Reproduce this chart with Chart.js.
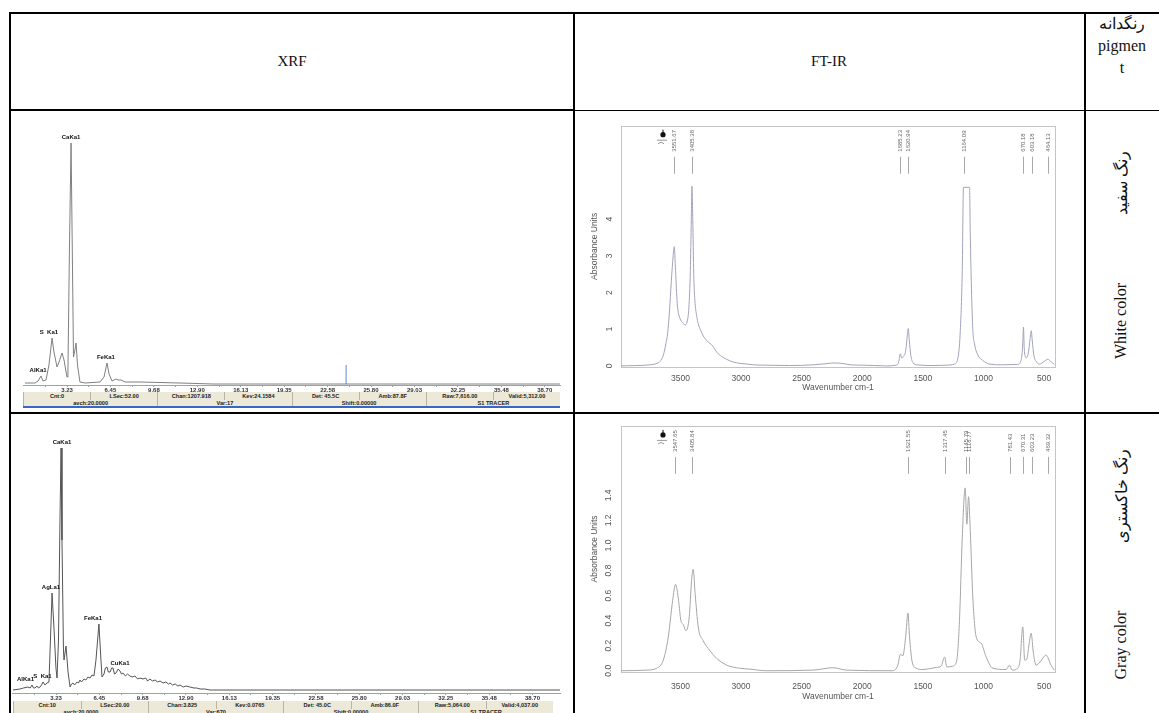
<!DOCTYPE html>
<html>
<head>
<meta charset="utf-8">
<script src="https://cdn.jsdelivr.net/npm/chart.js@4.4.0/dist/chart.umd.min.js"></script>
<style>
body { margin: 0; background: #fff; }
#page { position: relative; width: 1159px; height: 713px; overflow: hidden; font-family: "Liberation Serif", "DejaVu Serif", serif; color: #111; }
.ln { position: absolute; background: #000; }
.txt { position: absolute; white-space: nowrap; transform: translate(-50%, -50%); font-size: 15px; }
.rot { position: absolute; white-space: nowrap; transform: translate(-50%, -50%) rotate(-90deg); font-size: 16px; }
canvas { position: absolute; }
.bar { position: absolute; display: flex; background: #ece9d8; font: bold 5.6px "Liberation Sans", Arial, sans-serif; color: #222; overflow: hidden; }
.bar span { flex: 1; text-align: center; border-left: 1px solid #b9b5a0; white-space: nowrap; overflow: hidden; }
</style>
</head>
<body>
<div id="page">
  <!-- table lines -->
  <div class="ln" style="left:9px;top:12px;width:1150px;height:2px"></div>
  <div class="ln" style="left:9px;top:12px;width:2px;height:701px"></div>
  <div class="ln" style="left:9px;top:109px;width:566px;height:2px"></div>
  <div class="ln" style="left:575px;top:110px;width:584px;height:1px"></div>
  <div class="ln" style="left:573px;top:12px;width:2px;height:701px"></div>
  <div class="ln" style="left:1084px;top:12px;width:2px;height:701px"></div>
  <div class="ln" style="left:9px;top:412px;width:1150px;height:2px"></div>

  <div class="txt" style="left:292px;top:61px">XRF</div>
  <div class="txt" style="left:829px;top:61px">FT-IR</div>
  <div class="txt" style="left:1122px;top:23px;font-size:16px">رنگدانه</div>
  <div class="txt" style="left:1122px;top:46px;font-size:16px">pigmen</div>
  <div class="txt" style="left:1122px;top:68px;font-size:16px">t</div>
  <div class="rot" style="left:1121px;top:183px">رنگ سفید</div>
  <div class="rot" style="left:1121px;top:321px">White color</div>
  <div class="rot" style="left:1121px;top:496px">رنگ خاکستری</div>
  <div class="rot" style="left:1121px;top:645px">Gray color</div>

  <canvas id="xrfWhite" width="556" height="281" style="left:12px;top:112px"></canvas>
  <canvas id="xrfGray" width="556" height="287" style="left:12px;top:414px"></canvas>
  <canvas id="irWhite" width="505" height="295" style="left:575px;top:112px"></canvas>
  <canvas id="irGray" width="505" height="299" style="left:575px;top:414px"></canvas>

  <div class="bar" id="barWhiteA" style="left:23px;top:392px;width:537px;height:8px;line-height:8px"></div>
  <div class="bar" id="barWhiteB" style="left:23px;top:400px;width:537px;height:6px;line-height:6px"></div>
  <div style="position:absolute;left:23px;top:406px;width:537px;height:2px;background:#3a67c4"></div>
  <div class="bar" id="barGrayA" style="left:13px;top:701px;width:540px;height:8px;line-height:8px"></div>
  <div class="bar" id="barGrayB" style="left:13px;top:709px;width:540px;height:6px;line-height:6px"></div>
</div>

<script>
// XRF, white pigment
const xrfWhiteKev = [0.11, 0.85, 1.08, 1.3, 1.45, 1.67, 1.89, 2.12, 2.26, 2.49, 2.64, 2.86, 3.01, 3.16, 3.23, 3.3, 3.41, 3.53, 3.64, 3.71, 3.82, 3.9, 4.01, 4.19, 4.57, 5.68, 5.98, 6.2, 6.35, 6.57, 6.87, 7.02, 7.24, 7.54, 8.65, 11.62, 14.07, 39.9];
const xrfWhiteCounts = [1, 1, 3, 8, 3, 4, 19, 46, 32, 17, 22, 31, 24, 12, 7, 14, 134, 241, 114, 27, 34, 41, 19, 2, 1, 2, 7, 21, 10, 3, 5, 4, 4, 2, 2, 1, 0, 0];
const xrfWhiteNames = ["AlKa1", "S  Ka1", "CaKa1", "FeKa1"];
const xrfWhiteNameKev = [1.08, 1.89, 3.53, 6.12];
const xrfWhiteCursor = [23.95, 19];

// XRF, gray pigment
const xrfGrayKev = [0.02, 0.54, 0.8, 1.14, 1.3, 1.44, 1.55, 1.66, 1.81, 1.92, 2.03, 2.15, 2.26, 2.41, 2.55, 2.7, 2.81, 2.93, 3.08, 3.22, 3.3, 3.41, 3.52, 3.6, 3.67, 3.78, 3.82, 3.97, 4.12, 4.27, 4.38, 4.49, 4.6, 4.79, 4.9, 5.01, 5.12, 5.31, 5.45, 5.6, 5.76, 5.9, 6.05, 6.2, 6.42, 6.57, 6.65, 6.8, 6.9, 7.02, 7.12, 7.25, 7.36, 7.47, 7.58, 7.69, 7.85, 7.99, 8.1, 8.21, 8.4, 8.55, 8.73, 8.9, 9.1, 9.3, 9.48, 9.7, 9.9, 10.05, 10.22, 10.4, 10.6, 10.8, 10.97, 11.2, 11.4, 11.6, 11.71, 11.9, 12.1, 12.3, 12.46, 12.7, 12.9, 13.2, 13.5, 13.7, 13.95, 14.3, 14.69, 40.75];
const xrfGrayCounts = [0, 1, 2, 3, 2, 5, 2, 2, 4, 2, 3, 5, 8, 5, 7, 8, 50, 97, 60, 22, 12, 50, 170, 242, 150, 40, 30, 44, 18, 3, 6, 7, 5, 8, 7, 10, 8, 11, 10, 13, 12, 15, 14, 30, 66, 30, 13, 16, 22, 23, 18, 18, 22, 22, 16, 17, 21, 19, 16, 17, 14, 16, 14, 13, 14, 11, 12, 11, 12, 9, 11, 9, 10, 8, 9, 7, 8, 6, 7, 5, 6, 4, 5, 3, 4, 3, 2, 2, 1, 1, 0, 0];
const xrfGrayNames = ["AlKa1", "S  Ka1", "AgLa1", "CaKa1", "FeKa1", "CuKa1"];
const xrfGrayNameKev = [0.95, 2.22, 2.85, 3.67, 5.98, 7.99];

const xrfTickLabels = ["3.23", "6.45", "9.68", "12.90", "16.13", "19.35", "22.58", "25.80", "29.03", "32.25", "35.48", "38.70"];

const statusWhiteTop = ["Cnt:0", "LSec:52.00", "Chan:1207.918", "Kev:24.1584", "Det: 45.5C", "Amb:87.8F", "Raw:7,616.00", "Valid:5,312.00"];
const statusWhiteBottom = ["avch:20.0000", "Var:17", "Shift:0.00000", "S1 TRACER"];
const statusGrayTop = ["Cnt:10", "LSec:20.00", "Chan:3.825", "Kev:0.0765", "Det: 45.0C", "Amb:86.0F", "Raw:5,064.00", "Valid:4,037.00"];
const statusGrayBottom = ["avch:20.0000", "Var:670", "Shift:0.00000", "S1 TRACER"];

// FT-IR, white pigment
const irWhiteWn = [3990, 3850, 3750, 3700, 3669, 3640, 3620, 3605, 3590, 3575, 3560, 3551, 3540, 3526, 3504, 3480, 3463, 3445, 3430, 3418, 3410, 3405, 3398, 3390, 3381, 3365, 3353, 3330, 3312, 3290, 3271, 3243, 3225, 3202, 3160, 3119, 3060, 3010, 2950, 2900, 2800, 2600, 2400, 2300, 2230, 2150, 2100, 2000, 1900, 1800, 1720, 1700, 1686, 1675, 1660, 1640, 1628, 1621, 1612, 1600, 1580, 1550, 1400, 1300, 1240, 1212, 1192, 1175, 1165, 1115, 1109, 1099, 1088, 1074, 1047, 1006, 951, 850, 720, 690, 676, 670, 664, 655, 648, 630, 615, 606, 598, 585, 560, 538, 500, 470, 445, 415];
const irWhiteAbs = [0.0, 0.01, 0.03, 0.06, 0.12, 0.3, 0.6, 0.9, 1.5, 2.3, 3.0, 3.25, 2.6, 1.7, 1.3, 1.18, 1.12, 1.2, 1.6, 2.6, 4.0, 4.9, 4.0, 2.5, 1.8, 1.35, 1.15, 0.95, 0.82, 0.72, 0.65, 0.58, 0.5, 0.38, 0.26, 0.18, 0.1, 0.07, 0.05, 0.03, 0.02, 0.01, 0.03, 0.06, 0.08, 0.06, 0.03, 0.02, 0.01, 0.0, 0.02, 0.1, 0.33, 0.22, 0.25, 0.45, 0.85, 1.02, 0.7, 0.3, 0.08, 0.03, 0.01, 0.02, 0.05, 0.2, 0.9, 2.6, 4.87, 4.87, 3.6, 2.1, 1.0, 0.6, 0.3, 0.15, 0.05, 0.03, 0.04, 0.15, 0.6, 1.06, 0.5, 0.25, 0.22, 0.35, 0.75, 0.96, 0.7, 0.3, 0.1, 0.05, 0.12, 0.18, 0.12, 0.04];
const irWhitePeaks = ["3551.67", "3405.38", "1685.23", "1620.94", "1164.09", "670.18", "603.18", "464.13"];
const irWhiteYTicks = [0, 1, 2, 3, 4];

// FT-IR, gray pigment
const irGrayWn = [3990, 3778, 3696, 3641, 3600, 3564, 3540, 3515, 3496, 3477, 3455, 3427, 3408, 3395, 3378, 3353, 3312, 3257, 3202, 3119, 3010, 2928, 2790, 2406, 2241, 2131, 1749, 1706, 1686, 1665, 1642, 1623, 1610, 1588, 1555, 1500, 1390, 1349, 1321, 1302, 1253, 1220, 1198, 1175, 1151, 1137, 1123, 1109, 1088, 1060, 1019, 978, 923, 813, 786, 764, 717, 698, 676, 660, 643, 627, 607, 588, 566, 533, 484, 443, 415];
const irGrayAbs = [0.0, 0.005, 0.02, 0.085, 0.27, 0.56, 0.69, 0.56, 0.4, 0.37, 0.32, 0.43, 0.72, 0.81, 0.61, 0.35, 0.24, 0.16, 0.1, 0.045, 0.02, 0.013, 0.0, 0.005, 0.024, 0.005, 0.0, 0.045, 0.13, 0.12, 0.27, 0.46, 0.27, 0.07, 0.02, 0.01, 0.026, 0.037, 0.11, 0.03, 0.037, 0.085, 0.4, 1.06, 1.46, 1.17, 1.39, 1.12, 0.59, 0.27, 0.22, 0.11, 0.02, 0.01, 0.045, 0.005, 0.02, 0.085, 0.35, 0.085, 0.09, 0.19, 0.3, 0.14, 0.045, 0.07, 0.125, 0.045, 0.005];
const irGrayPeaks = ["3547.65", "3405.84", "1621.55", "1317.45", "1145.79", "1118.77", "781.43", "670.31", "603.23", "469.32"];
const irGrayYTicks = [0, 0.2, 0.4, 0.6, 0.8, 1.0, 1.2, 1.4];

const irTicks = [3500, 3000, 2500, 2000, 1500, 1000, 500];

function fillBar(id, items) {
    const bar = document.getElementById(id);
    items.forEach(t => {
        const s = document.createElement("span");
        s.textContent = t;
        bar.appendChild(s);
    });
}
fillBar("barWhiteA", statusWhiteTop);
fillBar("barWhiteB", statusWhiteBottom);
fillBar("barGrayA", statusGrayTop);
fillBar("barGrayB", statusGrayBottom);

// element names above the XRF peaks
const peakNames = {
    id: "peakNames",
    afterDatasetsDraw(chart, args, opts) {
        const { ctx, scales: { x, y } } = chart;
        const pts = chart.data.datasets[0].data;
        ctx.save();
        ctx.font = 'bold 6px "Liberation Sans", Arial, sans-serif';
        ctx.fillStyle = "#111";
        ctx.textAlign = "center";
        ctx.textBaseline = "bottom";
        opts.names.forEach((name, i) => {
            const k = opts.kev[i];
            let top = 0;
            pts.forEach(p => { if (Math.abs(p.x - k) <= 0.5 && p.y > top) top = p.y; });
            ctx.fillText(name, x.getPixelForValue(k), y.getPixelForValue(top) - 3);
        });
        ctx.restore();
    }
};

function xrfChart(id, kev, counts, maxKev, yMin, yMax, color, names, nameKev, cursor, padLeft) {
    const tickVals = [];
    xrfTickLabels.forEach((l, i) => {
        const v = Number(l);
        const prev = i === 0 ? 0 : Number(xrfTickLabels[i - 1]);
        tickVals.push((prev + v) / 2, v);
    });
    const datasets = [{
        data: kev.map((k, i) => ({ x: k, y: counts[i] })),
        borderColor: color,
        borderWidth: 1,
        pointRadius: 0,
        tension: 0
    }];
    if (cursor) {
        datasets.push({
            data: [{ x: cursor[0], y: 0 }, { x: cursor[0], y: cursor[1] }],
            borderColor: "#5a86d8",
            borderWidth: 1,
            pointRadius: 0
        });
    }
    new Chart(document.getElementById(id), {
        type: "line",
        data: { datasets },
        plugins: [peakNames],
        options: {
            responsive: false,
            animation: false,
            layout: { padding: { left: padLeft, right: 8, top: 0, bottom: 0 } },
            plugins: {
                legend: { display: false },
                tooltip: { enabled: false },
                peakNames: { names, kev: nameKev }
            },
            scales: {
                x: {
                    type: "linear",
                    min: 0,
                    max: maxKev,
                    afterBuildTicks: s => { s.ticks = tickVals.filter(v => v <= maxKev).map(v => ({ value: v })); },
                    afterFit: s => { s.height = 8; },
                    ticks: {
                        autoSkip: false,
                        maxRotation: 0,
                        padding: 0,
                        color: "#333",
                        font: { size: 6, weight: "bold", family: "Liberation Sans" },
                        callback: (v, i) => (i % 2 === 1 ? xrfTickLabels[(i - 1) / 2] : "")
                    },
                    grid: { drawOnChartArea: false, tickLength: 2, color: "#9aa3ad" },
                    border: { color: "#9aa3ad" }
                },
                y: { display: false, min: yMin, max: yMax }
            }
        }
    });
}

xrfChart("xrfWhite", xrfWhiteKev, xrfWhiteCounts, 39.83, -1, 272, "#808080", xrfWhiteNames, xrfWhiteNameKev, xrfWhiteCursor, 11.5);
xrfChart("xrfGray", xrfGrayKev, xrfGrayCounts, 40.75, -3, 276, "#555", xrfGrayNames, xrfGrayNameKev, null, 0.7);

// frame, peak labels and the little OPUS marker
const irFrame = {
    id: "irFrame",
    beforeDatasetsDraw(chart) {
        const { ctx, chartArea: a } = chart;
        ctx.save();
        ctx.strokeStyle = "#c4c4c4";
        ctx.lineWidth = 1;
        ctx.strokeRect(Math.round(a.left) + 0.5, Math.round(a.top) + 0.5, Math.round(a.right - a.left), Math.round(a.bottom - a.top));
        ctx.restore();
    },
    afterDatasetsDraw(chart, args, opts) {
        const { ctx, chartArea: a, scales: { x } } = chart;
        ctx.save();
        ctx.strokeStyle = "#a8a8a8";
        ctx.fillStyle = "#666";
        ctx.lineWidth = 1;
        ctx.font = '6px "Liberation Sans", Arial, sans-serif';
        ctx.textAlign = "left";
        ctx.textBaseline = "middle";
        opts.peaks.forEach(p => {
            const px = Math.round(x.getPixelForValue(Number(p))) + 0.5;
            ctx.beginPath();
            ctx.moveTo(px, a.top + 31);
            ctx.lineTo(px, a.top + 48);
            ctx.stroke();
            ctx.save();
            ctx.translate(px, a.top + 26);
            ctx.rotate(-Math.PI / 2);
            ctx.fillText(p, 0, 0);
            ctx.restore();
        });
        // marker symbol
        const mx = a.left + 42, my = a.top + 9;
        ctx.fillStyle = "#111";
        ctx.beginPath();
        ctx.arc(mx, my, 2.6, 0, Math.PI * 2);
        ctx.fill();
        ctx.fillRect(mx - 0.5, my - 5, 1, 3);
        ctx.strokeStyle = "#999";
        ctx.beginPath();
        ctx.moveTo(mx - 6, my + 5.5);
        ctx.lineTo(mx + 4, my + 5.5);
        ctx.moveTo(mx - 5, my + 9);
        ctx.quadraticCurveTo(mx - 2, my + 6, mx + 1, my + 9);
        ctx.stroke();
        ctx.restore();
    }
};

function irChart(id, wn, abs, cfg) {
    new Chart(document.getElementById(id), {
        type: "line",
        data: {
            datasets: [{
                data: wn.map((w, i) => ({ x: w, y: abs[i] })),
                borderColor: cfg.color,
                borderWidth: 1,
                pointRadius: 0,
                cubicInterpolationMode: "monotone"
            }]
        },
        plugins: [irFrame],
        options: {
            responsive: false,
            animation: false,
            layout: { padding: { left: 0, right: 25, top: cfg.top, bottom: 0 } },
            plugins: {
                legend: { display: false },
                tooltip: { enabled: false },
                irFrame: { peaks: cfg.peaks }
            },
            scales: {
                x: {
                    type: "linear",
                    reverse: true,
                    min: 410,
                    max: 3990,
                    afterBuildTicks: s => { s.ticks = irTicks.map(v => ({ value: v })); },
                    afterFit: s => { s.height = cfg.xh; },
                    ticks: {
                        autoSkip: false,
                        maxRotation: 0,
                        padding: cfg.xpad,
                        color: "#555",
                        font: { size: 8.5, family: "Liberation Sans" },
                        callback: v => String(v)
                    },
                    grid: { display: false, drawTicks: false, tickLength: 0 },
                    border: { display: false },
                    title: {
                        display: true,
                        text: "Wavenumber cm-1",
                        color: "#555",
                        font: { size: 8.5, family: "Liberation Sans" },
                        padding: { top: 0, bottom: cfg.tpad }
                    }
                },
                y: {
                    min: cfg.ymin,
                    max: cfg.ymax,
                    afterBuildTicks: s => { s.ticks = cfg.yticks.map(v => ({ value: v })); },
                    afterFit: s => { s.width = 46; },
                    ticks: {
                        minRotation: 90,
                        maxRotation: 90,
                        crossAlign: "center",
                        padding: cfg.ypad,
                        color: "#555",
                        font: { size: 8.5, family: "Liberation Sans" },
                        callback: v => v.toFixed(cfg.dec)
                    },
                    grid: { display: false, drawTicks: false, tickLength: 0 },
                    border: { display: false },
                    title: {
                        display: true,
                        text: "Absorbance Units",
                        color: "#555",
                        font: { size: 8.5, family: "Liberation Sans" },
                        padding: { top: 15, bottom: 0 }
                    }
                }
            }
        }
    });
}

irChart("irWhite", irWhiteWn, irWhiteAbs, {
    color: "#a3a3bb", peaks: irWhitePeaks, yticks: irWhiteYTicks, dec: 0,
    ymin: -0.03, ymax: 6.55, top: 5, xh: 40, xpad: 7, tpad: 14, ypad: 8.6
});
irChart("irGray", irGrayWn, irGrayAbs, {
    color: "#a6a6a6", peaks: irGrayPeaks, yticks: irGrayYTicks, dec: 1,
    ymin: -0.01, ymax: 1.955, top: 10, xh: 41, xpad: 9.6, tpad: 11, ypad: 6.8
});
</script>
</body>
</html>
